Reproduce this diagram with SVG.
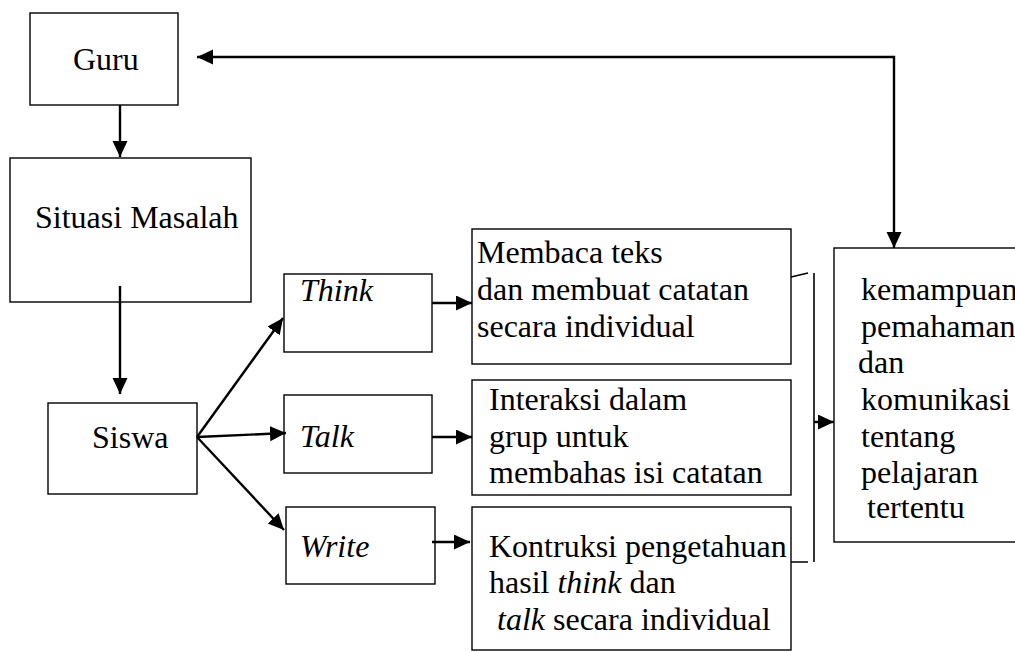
<svg xmlns="http://www.w3.org/2000/svg" width="1015" height="652" viewBox="0 0 1015 652">
<style>
.box{fill:#fff;stroke:#000;stroke-width:1.4}
.t{font-family:"Liberation Serif","Times New Roman",serif;font-size:32px;fill:#000}
.i{font-style:italic}
.c{fill:none;stroke:#000;stroke-width:2.4}
.b{fill:none;stroke:#000;stroke-width:1.6}
</style>
<defs>
<marker id="ah" markerUnits="userSpaceOnUse" markerWidth="17" markerHeight="16" refX="16" refY="7.5" orient="auto-start-reverse">
<path d="M0,0 L16,7.5 L0,15 z" fill="#000"/>
</marker>
</defs>
<rect width="1015" height="652" fill="#fff"/>
<g id="guru"><rect class="box" x="30" y="13" width="148" height="92"/><text class="t" x="73" y="70">Guru</text></g>
<g id="situasi"><rect class="box" x="10" y="158" width="241" height="144"/><text class="t" x="35" y="228">Situasi Masalah</text></g>
<g id="siswa"><rect class="box" x="48" y="403" width="149" height="91"/><text class="t" x="92" y="448">Siswa</text></g>
<g id="think"><rect class="box" x="284" y="274" width="148" height="78"/><text class="t i" x="300" y="301">Think</text></g>
<g id="talk"><rect class="box" x="284" y="395" width="148" height="78"/><text class="t i" x="300" y="447">Talk</text></g>
<g id="write"><rect class="box" x="286" y="507" width="149" height="77"/><text class="t i" x="300" y="557">Write</text></g>
<g id="membaca"><rect class="box" x="472" y="229" width="319" height="135"/><text class="t" x="477" y="263">Membaca teks</text><text class="t" x="477" y="300">dan membuat catatan</text><text class="t" x="477" y="337">secara individual</text></g>
<g id="interaksi"><rect class="box" x="472" y="380" width="319" height="115"/><text class="t" x="489" y="410">Interaksi dalam</text><text class="t" x="489" y="447">grup untuk</text><text class="t" x="489" y="483">membahas isi catatan</text></g>
<g id="kontruksi"><rect class="box" x="472" y="507" width="319" height="143"/><text class="t" x="489" y="557">Kontruksi pengetahuan</text><text class="t" x="489" y="593">hasil <tspan class="i">think</tspan> dan</text><text class="t" x="497" y="630"><tspan class="i">talk</tspan> secara individual</text></g>
<g id="kemampuan"><rect class="box" x="834" y="248" width="200" height="294"/><text class="t" x="861" y="300">kemampuan</text><text class="t" x="861" y="337">pemahaman</text><text class="t" x="858" y="373">dan</text><text class="t" x="861" y="410">komunikasi</text><text class="t" x="861" y="447">tentang</text><text class="t" x="861" y="483">pelajaran</text><text class="t" x="867" y="518">tertentu</text></g>
<g id="connectors">
<line class="c" x1="120" y1="105" x2="120" y2="157" marker-end="url(#ah)"/>
<line class="c" x1="120" y1="286" x2="120" y2="394" marker-end="url(#ah)"/>
<line class="c" x1="197" y1="437" x2="283" y2="318" marker-end="url(#ah)"/>
<line class="c" x1="197" y1="437" x2="286" y2="433" marker-end="url(#ah)"/>
<line class="c" x1="197" y1="437" x2="284" y2="530" marker-end="url(#ah)"/>
<line class="c" x1="432" y1="303" x2="472" y2="303" marker-end="url(#ah)"/>
<line class="c" x1="432" y1="437" x2="472" y2="437" marker-end="url(#ah)"/>
<line class="c" x1="432" y1="542" x2="470" y2="542" marker-end="url(#ah)"/>
<path class="b" d="M791,277 L808,273 M791,562 L808,562 M814,273 L814,562"/>
<line class="c" x1="814" y1="422" x2="834" y2="422" marker-end="url(#ah)"/>
<path class="c" d="M197,57 L894,57 L894,248" marker-start="url(#ah)" marker-end="url(#ah)"/>
</g>
</svg>
